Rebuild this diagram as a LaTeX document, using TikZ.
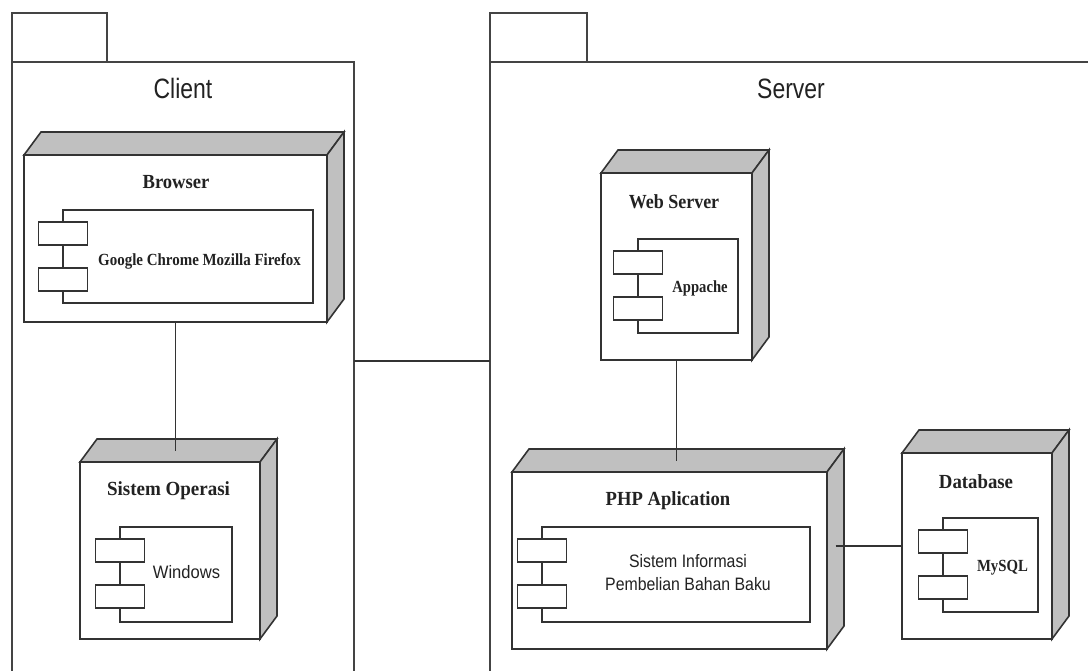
\documentclass[tikz,border=0pt]{standalone}
\usepackage{fontspec}
\usepackage{graphicx}
\setmainfont{Liberation Serif}
\newfontfamily\arialf{Liberation Sans}
\usetikzlibrary{calc}
\definecolor{ln}{HTML}{333333}
\definecolor{tx}{HTML}{222222}
\definecolor{pk}{HTML}{444444}
\definecolor{shade}{HTML}{C0C0C0}
\newcommand\sxb[2]{\scalebox{#1}[1]{#2}}
\newcommand\dxv{17}
\newcommand\dyv{23}
\tikzset{
  pkg/.style={draw=pk, line width=1.3pt, inner sep=0pt, outer sep=0pt, anchor=north west},
  front/.style={draw=ln, fill=white, line width=1.6pt, inner sep=0pt, outer sep=0pt, anchor=north west},
  face/.style={draw=ln, fill=shade, line width=1.6pt, line join=miter},
  compbox/.style={draw=ln, line width=1.4pt, inner sep=0pt, outer sep=0pt, anchor=north west},
  port/.style={draw=ln, fill=white, line width=1.4pt, inner sep=0pt, outer sep=0pt, minimum width=49pt, minimum height=23pt, anchor=north},
  conn/.style={draw=ln, line width=1.5pt},
  pkgtitle/.style={inner sep=0pt, anchor=base, font=\arialf\fontsize{28}{32}\selectfont, text=tx},
  devtitle/.style={inner sep=0pt, anchor=base, font=\bfseries\fontsize{20}{24}\selectfont, text=tx},
  serlabel/.style={inner sep=0pt, anchor=base, font=\bfseries\fontsize{17}{21}\selectfont, text=tx},
  sanslabel/.style={inner sep=0pt, anchor=base, font=\arialf\fontsize{18}{23}\selectfont, text=tx},
}
% device node: name, x1, y1, x2, y2 (front face)
\newcommand\devnode[5]{%
  \node[front, minimum width={(#4-#2)*1pt}, minimum height={(#5-#3)*1pt}] (#1) at (#2,#3) {};
  \draw[face] (#1.north west) -- ++(\dxv,-\dyv) -- ([shift={(\dxv,-\dyv)}]#1.north east) -- (#1.north east) -- cycle;
  \draw[face] (#1.north east) -- ++(\dxv,-\dyv) -- ([shift={(\dxv,-\dyv)}]#1.south east) -- (#1.south east) -- cycle;
  \coordinate (#1-top) at ($(#1.north)+(\dxv/2,-\dyv/2)$);
  \coordinate (#1-side) at ($(#1.east)+(\dxv/2,-\dyv/2)$);
}
% component: name, x1, y1, x2, y2
\newcommand\compo[5]{%
  \node[compbox, minimum width={(#4-#2)*1pt}, minimum height={(#5-#3)*1pt}] (#1) at (#2,#3) {};
  \node[port] (#1-p1) at ($(#1.north west)+(0,12)$) {};
  \node[port] (#1-p2) at ($(#1.north west)+(0,58)$) {};
}
\begin{document}
\begin{tikzpicture}[x=1pt, y=-1pt]
\useasboundingbox[fill=white] (0,0) rectangle (1088,670);

% packages
\node[pkg, minimum width=95pt, minimum height=49pt] (ctab) at (12,13) {};
\node[pkg, minimum width=342pt, minimum height=640pt] (client) at (12,62) {};
\node[pkg, minimum width=97pt, minimum height=49pt] (stab) at (490,13) {};
\node[pkg, minimum width=620pt, minimum height=640pt] (server) at (490,62) {};
\node[pkgtitle] (clientlbl) at (183,98) {\sxb{0.82}{Client}};
\node[pkgtitle] (serverlbl) at (791,98) {\sxb{0.82}{Server}};

% Browser
\devnode{browser}{24}{155}{327}{322}
\node[devtitle] (browserlbl) at (176,188) {\sxb{0.93}{Browser}};
\compo{gc}{63}{210}{313}{303}
\node[serlabel] (gclbl) at (199.5,265) {\sxb{0.88}{Google Chrome Mozilla Firefox}};

% Sistem Operasi
\devnode{so}{80}{462}{260}{639}
\node[devtitle] (solbl) at (168.5,495) {\sxb{0.95}{Sistem Operasi}};
\compo{win}{120}{527}{232}{622}
\node[sanslabel] (winlbl) at (186.5,578) {\sxb{0.92}{Windows}};

% Web Server
\devnode{ws}{601}{173}{752}{360}
\node[devtitle] (wslbl) at (674,208) {\sxb{0.9}{Web Server}};
\compo{ap}{638}{239}{738}{333}
\node[serlabel] (aplbl) at (700,292) {\sxb{0.86}{Appache}};

% PHP Aplication
\devnode{php}{512}{472}{827}{649}
\node[devtitle] (phplbl) at (668,505) {\sxb{0.93}{PHP Aplication}};
\compo{si}{542}{527}{810}{622}
\node[sanslabel] (silbl) at (688,567) {\sxb{0.88}{\begin{tabular}[t]{@{}c@{}}Sistem Informasi\\Pembelian Bahan Baku\end{tabular}}};

% Database
\devnode{db}{902}{453}{1052}{639}
\node[devtitle] (dblbl) at (976,488) {\sxb{0.94}{Database}};
\compo{my}{943}{518}{1038}{612}
\node[serlabel] (mylbl) at (1002.5,571) {\sxb{0.87}{MySQL}};

% connectors
\draw[conn] (browser.south) -- (browser.south |- so-top);
\draw[conn] (ws.south) -- (ws.south |- php-top);
\draw[conn] (php-side |- db.west) -- (db.west);
\coordinate (lk) at (420,361);
\draw[conn] (lk -| client.east) -- (lk -| server.west);
\end{tikzpicture}
\end{document}
